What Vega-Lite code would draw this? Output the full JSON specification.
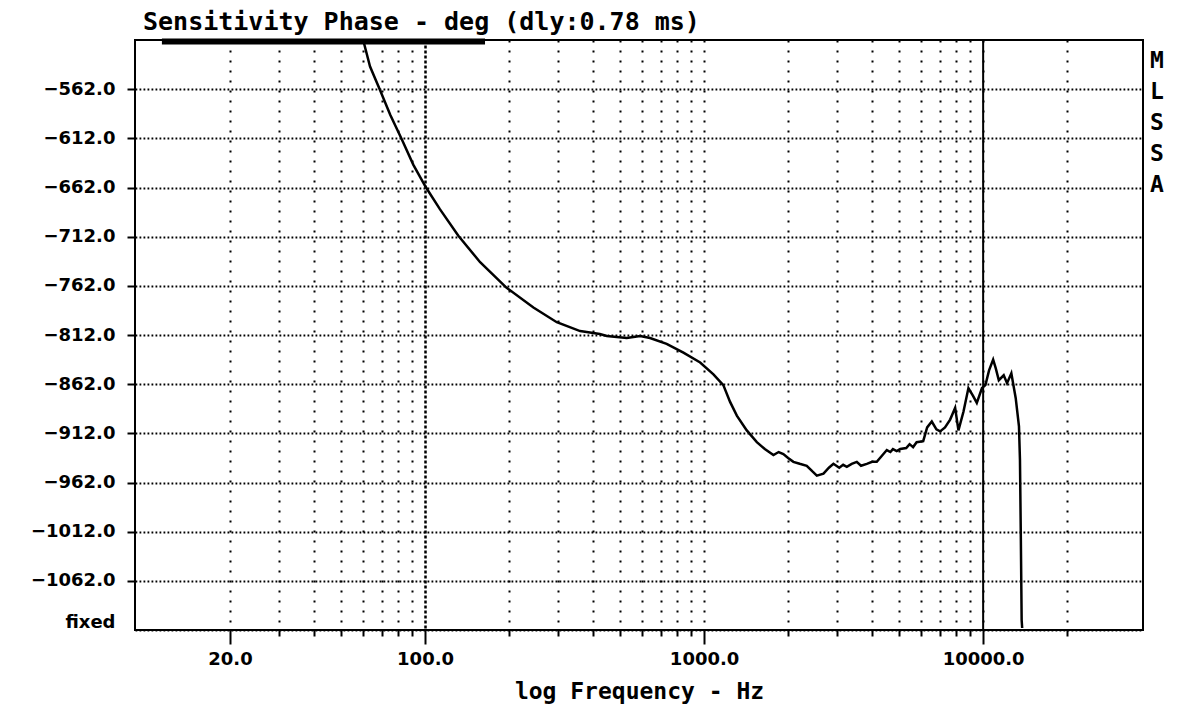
{
  "$schema": "https://vega.github.io/schema/vega-lite/v6.json",
  "width": 1008,
  "height": 590,
  "autosize": "none",
  "padding": {"left": 135, "top": 40, "right": 39, "bottom": 84},
  "background": "white",
  "config": {"view": {"stroke": "black", "strokeWidth": 2}},
  "title": {"text": "Sensitivity Phase - deg (dly:0.78 ms)", "anchor": "start", "frame": "group", "font": "DejaVu Sans Mono", "fontSize": 25, "fontWeight": "bold", "dx": 8, "offset": 0, "color": "black"},
  "layer": [
    {
      "data": {"values": [
        {"freq": 60, "phase": -512}, {"freq": 63.5, "phase": -539}, {"freq": 69, "phase": -563}, {"freq": 75, "phase": -588},
        {"freq": 82.5, "phase": -613}, {"freq": 90.8, "phase": -639}, {"freq": 100.8, "phase": -662}, {"freq": 113, "phase": -684},
        {"freq": 131.6, "phase": -711}, {"freq": 157.5, "phase": -738}, {"freq": 196, "phase": -764}, {"freq": 244.5, "phase": -784},
        {"freq": 296.5, "phase": -799}, {"freq": 359.5, "phase": -808}, {"freq": 423, "phase": -811}, {"freq": 448, "phase": -813},
        {"freq": 528, "phase": -815}, {"freq": 558, "phase": -814}, {"freq": 590, "phase": -813}, {"freq": 640, "phase": -815},
        {"freq": 734, "phase": -821}, {"freq": 843, "phase": -830}, {"freq": 968, "phase": -840}, {"freq": 1080, "phase": -852},
        {"freq": 1172, "phase": -863}, {"freq": 1239, "phase": -880}, {"freq": 1310, "phase": -894}, {"freq": 1422, "phase": -909},
        {"freq": 1545, "phase": -921}, {"freq": 1650, "phase": -928}, {"freq": 1772, "phase": -934}, {"freq": 1850, "phase": -931},
        {"freq": 1923, "phase": -933}, {"freq": 2000, "phase": -937}, {"freq": 2089, "phase": -941}, {"freq": 2200, "phase": -943},
        {"freq": 2333, "phase": -945}, {"freq": 2450, "phase": -951}, {"freq": 2535, "phase": -955}, {"freq": 2678, "phase": -953},
        {"freq": 2800, "phase": -947}, {"freq": 2907, "phase": -943}, {"freq": 3050, "phase": -947}, {"freq": 3150, "phase": -944},
        {"freq": 3247, "phase": -946}, {"freq": 3380, "phase": -943}, {"freq": 3525, "phase": -941}, {"freq": 3650, "phase": -945},
        {"freq": 3829, "phase": -943}, {"freq": 4000, "phase": -941}, {"freq": 4157, "phase": -941}, {"freq": 4330, "phase": -935},
        {"freq": 4516, "phase": -929}, {"freq": 4650, "phase": -931}, {"freq": 4750, "phase": -928}, {"freq": 4900, "phase": -930},
        {"freq": 5044, "phase": -928}, {"freq": 5300, "phase": -927}, {"freq": 5450, "phase": -923}, {"freq": 5610, "phase": -926},
        {"freq": 5776, "phase": -921}, {"freq": 6098, "phase": -920}, {"freq": 6300, "phase": -906}, {"freq": 6546, "phase": -900},
        {"freq": 6800, "phase": -908}, {"freq": 7012, "phase": -910}, {"freq": 7300, "phase": -906}, {"freq": 7616, "phase": -898},
        {"freq": 7937, "phase": -886}, {"freq": 8155, "phase": -909}, {"freq": 8500, "phase": -890}, {"freq": 8856, "phase": -866},
        {"freq": 9200, "phase": -874}, {"freq": 9490, "phase": -881}, {"freq": 9905, "phase": -866}, {"freq": 10190, "phase": -863},
        {"freq": 10500, "phase": -848}, {"freq": 10860, "phase": -837}, {"freq": 11100, "phase": -846}, {"freq": 11380, "phase": -858},
        {"freq": 11850, "phase": -853}, {"freq": 12180, "phase": -861}, {"freq": 12620, "phase": -851}, {"freq": 13080, "phase": -876},
        {"freq": 13440, "phase": -905}, {"freq": 13550, "phase": -939}, {"freq": 13650, "phase": -1020}, {"freq": 13740, "phase": -1102},
        {"freq": 13800, "phase": -1110}
      ]},
      "mark": {"type": "line", "color": "black", "strokeWidth": 2.5},
      "encoding": {
        "x": {
          "field": "freq", "type": "quantitative",
          "scale": {"type": "log", "domain": [9.13, 37400], "nice": false},
          "axis": {
            "values": [20, 30, 40, 50, 60, 70, 80, 90, 100, 200, 300, 400, 500, 600, 700, 800, 900, 1000, 2000, 3000, 4000, 5000, 6000, 7000, 8000, 9000, 10000, 20000],
            "labelExpr": "indexof([20, 100, 1000, 10000], datum.value) >= 0 ? format(datum.value, '.1f') : ''",
            "labelFont": "DejaVu Sans", "labelFontWeight": "bold", "labelFontSize": 18, "labelColor": "black",
            "labelPadding": 6, "labelOverlap": false, "labelFlush": false,
            "tickColor": "black", "tickWidth": 2,
            "tickSize": {"condition": {"test": "indexof([20, 100, 1000, 10000], datum.value) >= 0", "value": 14}, "value": 6},
            "grid": true, "gridColor": "black", "gridOpacity": 1,
            "gridWidth": {"condition": {"test": "datum.value == 100", "value": 2.5}, "value": 2},
            "gridDash": {"condition": {"test": "datum.value == 100", "value": [3, 2]}, "value": [2, 8]},
            "domain": false,
            "title": "log Frequency - Hz", "titleFont": "DejaVu Sans Mono", "titleFontSize": 23, "titleFontWeight": "bold", "titleColor": "black", "titlePadding": 12
          }
        },
        "y": {
          "field": "phase", "type": "quantitative",
          "scale": {"domain": [-1112, -512], "nice": false, "zero": false},
          "axis": {
            "values": [-562, -612, -662, -712, -762, -812, -862, -912, -962, -1012, -1062, -1112],
            "labelExpr": "datum.value == -1112 ? 'fixed' : format(datum.value, '.1f')",
            "labelFont": "DejaVu Sans", "labelFontWeight": "bold", "labelFontSize": 18, "labelColor": "black",
            "labelPadding": 12,
            "labelOffset": {"condition": {"test": "datum.value == -1112", "value": -8}, "value": 0},
            "tickColor": "black", "tickWidth": 2, "tickSize": 8,
            "tickOpacity": {"condition": {"test": "datum.value == -1112", "value": 0}, "value": 1},
            "grid": true, "gridColor": "black", "gridWidth": 1.8, "gridOpacity": 1, "gridDash": [1.8, 2.2],
            "domain": false, "title": null
          }
        }
      }
    },
    {
      "data": {"values": [{"freq": 10000}]},
      "mark": {"type": "rule", "color": "black", "strokeWidth": 2},
      "encoding": {"x": {"field": "freq", "type": "quantitative"}}
    },
    {
      "data": {"values": [{"freq": 11.4, "freq2": 164, "phase": -513.5}]},
      "mark": {"type": "rule", "color": "black", "strokeWidth": 6},
      "encoding": {
        "x": {"field": "freq", "type": "quantitative"},
        "x2": {"field": "freq2"},
        "y": {"field": "phase", "type": "quantitative"}
      }
    },
    {
      "data": {"values": [{"freq": 37400, "phase": -522, "label": "M\nL\nS\nS\nA"}]},
      "mark": {"type": "text", "align": "center", "baseline": "top", "dx": 14, "font": "DejaVu Sans Mono", "fontWeight": "bold", "fontSize": 23, "lineHeight": 31, "lineBreak": "\n", "color": "black"},
      "encoding": {
        "x": {"field": "freq", "type": "quantitative"},
        "y": {"field": "phase", "type": "quantitative"},
        "text": {"field": "label", "type": "nominal"}
      }
    }
  ]
}
